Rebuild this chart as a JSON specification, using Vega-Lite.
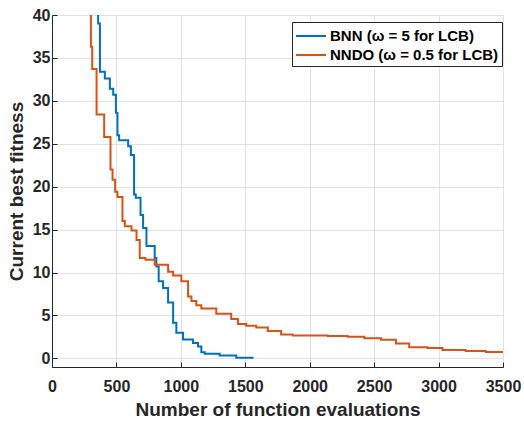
{
  "$schema": "https://vega.github.io/schema/vega-lite/v6.json",
  "autosize": "none",
  "padding": {"left": 52, "top": 15, "right": 21, "bottom": 54},
  "width": 451,
  "height": 352,
  "background": "white",
  "config": {
    "view": {"stroke": null},
    "font": "Liberation Sans",
    "axis": {
      "labelFont": "Liberation Sans", "labelFontWeight": "bold", "labelFontSize": 16, "labelColor": "#262626",
      "titleFont": "Liberation Sans", "titleFontWeight": "bold", "titleFontSize": 19, "titleColor": "#262626",
      "domainColor": "#262626", "domainWidth": 1, "tickColor": "#262626", "tickWidth": 1,
      "gridColor": "#e2e2e2", "gridWidth": 1
    },
    "legend": {
      "labelFont": "Liberation Sans", "labelFontWeight": "bold", "labelFontSize": 15, "labelColor": "#000000"
    }
  },
  "data": {
    "values": [
      {"method": "BNN (ω = 5 for LCB)", "i": 0, "x": 358, "y": 45},
      {"method": "BNN (ω = 5 for LCB)", "i": 1, "x": 358, "y": 39.0},
      {"method": "BNN (ω = 5 for LCB)", "i": 2, "x": 372, "y": 33.4},
      {"method": "BNN (ω = 5 for LCB)", "i": 3, "x": 410, "y": 32.6},
      {"method": "BNN (ω = 5 for LCB)", "i": 4, "x": 449, "y": 31.4},
      {"method": "BNN (ω = 5 for LCB)", "i": 5, "x": 475, "y": 30.7},
      {"method": "BNN (ω = 5 for LCB)", "i": 6, "x": 496, "y": 28.6},
      {"method": "BNN (ω = 5 for LCB)", "i": 7, "x": 508, "y": 26.0},
      {"method": "BNN (ω = 5 for LCB)", "i": 8, "x": 521, "y": 25.4},
      {"method": "BNN (ω = 5 for LCB)", "i": 9, "x": 591, "y": 24.7},
      {"method": "BNN (ω = 5 for LCB)", "i": 10, "x": 612, "y": 23.7},
      {"method": "BNN (ω = 5 for LCB)", "i": 11, "x": 637, "y": 19.1},
      {"method": "BNN (ω = 5 for LCB)", "i": 12, "x": 650, "y": 18.7},
      {"method": "BNN (ω = 5 for LCB)", "i": 13, "x": 687, "y": 16.7},
      {"method": "BNN (ω = 5 for LCB)", "i": 14, "x": 707, "y": 15.2},
      {"method": "BNN (ω = 5 for LCB)", "i": 15, "x": 733, "y": 13.1},
      {"method": "BNN (ω = 5 for LCB)", "i": 16, "x": 797, "y": 11.7},
      {"method": "BNN (ω = 5 for LCB)", "i": 17, "x": 810, "y": 10.7},
      {"method": "BNN (ω = 5 for LCB)", "i": 18, "x": 828, "y": 9.0},
      {"method": "BNN (ω = 5 for LCB)", "i": 19, "x": 862, "y": 8.2},
      {"method": "BNN (ω = 5 for LCB)", "i": 20, "x": 901, "y": 6.5},
      {"method": "BNN (ω = 5 for LCB)", "i": 21, "x": 940, "y": 4.15},
      {"method": "BNN (ω = 5 for LCB)", "i": 22, "x": 965, "y": 3.0},
      {"method": "BNN (ω = 5 for LCB)", "i": 23, "x": 1017, "y": 2.2},
      {"method": "BNN (ω = 5 for LCB)", "i": 24, "x": 1094, "y": 1.8},
      {"method": "BNN (ω = 5 for LCB)", "i": 25, "x": 1133, "y": 1.4},
      {"method": "BNN (ω = 5 for LCB)", "i": 26, "x": 1159, "y": 0.73},
      {"method": "BNN (ω = 5 for LCB)", "i": 27, "x": 1185, "y": 0.55},
      {"method": "BNN (ω = 5 for LCB)", "i": 28, "x": 1301, "y": 0.35},
      {"method": "BNN (ω = 5 for LCB)", "i": 29, "x": 1430, "y": 0.08},
      {"method": "BNN (ω = 5 for LCB)", "i": 30, "x": 1564, "y": 0.08},
      {"method": "NNDO (ω = 0.5 for LCB)", "i": 0, "x": 302, "y": 45},
      {"method": "NNDO (ω = 0.5 for LCB)", "i": 1, "x": 302, "y": 36.3},
      {"method": "NNDO (ω = 0.5 for LCB)", "i": 2, "x": 312, "y": 33.7},
      {"method": "NNDO (ω = 0.5 for LCB)", "i": 3, "x": 346, "y": 28.4},
      {"method": "NNDO (ω = 0.5 for LCB)", "i": 4, "x": 405, "y": 25.8},
      {"method": "NNDO (ω = 0.5 for LCB)", "i": 5, "x": 454, "y": 22.0},
      {"method": "NNDO (ω = 0.5 for LCB)", "i": 6, "x": 470, "y": 20.8},
      {"method": "NNDO (ω = 0.5 for LCB)", "i": 7, "x": 490, "y": 19.4},
      {"method": "NNDO (ω = 0.5 for LCB)", "i": 8, "x": 508, "y": 18.8},
      {"method": "NNDO (ω = 0.5 for LCB)", "i": 9, "x": 547, "y": 16.0},
      {"method": "NNDO (ω = 0.5 for LCB)", "i": 10, "x": 565, "y": 15.4},
      {"method": "NNDO (ω = 0.5 for LCB)", "i": 11, "x": 617, "y": 14.9},
      {"method": "NNDO (ω = 0.5 for LCB)", "i": 12, "x": 656, "y": 13.8},
      {"method": "NNDO (ω = 0.5 for LCB)", "i": 13, "x": 681, "y": 11.7},
      {"method": "NNDO (ω = 0.5 for LCB)", "i": 14, "x": 725, "y": 11.5},
      {"method": "NNDO (ω = 0.5 for LCB)", "i": 15, "x": 797, "y": 10.9},
      {"method": "NNDO (ω = 0.5 for LCB)", "i": 16, "x": 901, "y": 10.1},
      {"method": "NNDO (ω = 0.5 for LCB)", "i": 17, "x": 940, "y": 9.65},
      {"method": "NNDO (ω = 0.5 for LCB)", "i": 18, "x": 1004, "y": 9.0},
      {"method": "NNDO (ω = 0.5 for LCB)", "i": 19, "x": 1056, "y": 7.2},
      {"method": "NNDO (ω = 0.5 for LCB)", "i": 20, "x": 1082, "y": 6.7},
      {"method": "NNDO (ω = 0.5 for LCB)", "i": 21, "x": 1120, "y": 6.2},
      {"method": "NNDO (ω = 0.5 for LCB)", "i": 22, "x": 1159, "y": 5.8},
      {"method": "NNDO (ω = 0.5 for LCB)", "i": 23, "x": 1275, "y": 5.2},
      {"method": "NNDO (ω = 0.5 for LCB)", "i": 24, "x": 1391, "y": 4.6},
      {"method": "NNDO (ω = 0.5 for LCB)", "i": 25, "x": 1443, "y": 4.0},
      {"method": "NNDO (ω = 0.5 for LCB)", "i": 26, "x": 1507, "y": 3.8},
      {"method": "NNDO (ω = 0.5 for LCB)", "i": 27, "x": 1585, "y": 3.6},
      {"method": "NNDO (ω = 0.5 for LCB)", "i": 28, "x": 1675, "y": 3.18},
      {"method": "NNDO (ω = 0.5 for LCB)", "i": 29, "x": 1778, "y": 2.8},
      {"method": "NNDO (ω = 0.5 for LCB)", "i": 30, "x": 1868, "y": 2.67},
      {"method": "NNDO (ω = 0.5 for LCB)", "i": 31, "x": 2140, "y": 2.6},
      {"method": "NNDO (ω = 0.5 for LCB)", "i": 32, "x": 2295, "y": 2.52},
      {"method": "NNDO (ω = 0.5 for LCB)", "i": 33, "x": 2424, "y": 2.36},
      {"method": "NNDO (ω = 0.5 for LCB)", "i": 34, "x": 2553, "y": 2.17},
      {"method": "NNDO (ω = 0.5 for LCB)", "i": 35, "x": 2669, "y": 1.74},
      {"method": "NNDO (ω = 0.5 for LCB)", "i": 36, "x": 2772, "y": 1.31},
      {"method": "NNDO (ω = 0.5 for LCB)", "i": 37, "x": 2914, "y": 1.2},
      {"method": "NNDO (ω = 0.5 for LCB)", "i": 38, "x": 3030, "y": 0.97},
      {"method": "NNDO (ω = 0.5 for LCB)", "i": 39, "x": 3211, "y": 0.85},
      {"method": "NNDO (ω = 0.5 for LCB)", "i": 40, "x": 3366, "y": 0.74},
      {"method": "NNDO (ω = 0.5 for LCB)", "i": 41, "x": 3500, "y": 0.66}
    ]
  },
  "resolve": {"axis": {"x": "independent", "y": "independent"}},
  "layer": [
    {
      "mark": {"type": "line", "interpolate": "step-after", "strokeWidth": 2, "clip": true},
      "encoding": {
        "x": {
          "field": "x", "type": "quantitative",
          "scale": {"domain": [0, 3500], "nice": false, "zero": false},
          "axis": {"orient": "bottom", "values": [0, 500, 1000, 1500, 2000, 2500, 3000, 3500], "format": "d", "ticks": false, "labelPadding": 11, "title": "Number of function evaluations", "titlePadding": 6, "labelFlush": false, "labelOverlap": false}
        },
        "y": {
          "field": "y", "type": "quantitative",
          "scale": {"domain": [-1, 40], "nice": false, "zero": false},
          "axis": {"orient": "left", "values": [0, 5, 10, 15, 20, 25, 30, 35, 40], "format": "d", "ticks": false, "labelPadding": 2, "title": "Current best fitness", "titlePadding": 6, "labelFlush": false, "labelOverlap": false}
        },
        "color": {
          "field": "method", "type": "nominal",
          "scale": {"domain": ["BNN (ω = 5 for LCB)", "NNDO (ω = 0.5 for LCB)"], "range": ["#0072BD", "#D95319"]},
          "legend": {
            "title": null, "orient": "none", "legendX": 240, "legendY": 7,
            "symbolType": "M-1.5,0H1.5", "symbolSize": 400, "symbolStrokeWidth": 2, "symbolOffset": 5, "labelLimit": 0,
            "strokeColor": "#262626", "fillColor": "white", "padding": 3, "rowPadding": 0, "labelOffset": 8, "cornerRadius": 0
          }
        },
        "order": {"field": "i", "type": "quantitative"}
      }
    },
    {
      "mark": {"type": "line", "opacity": 0},
      "encoding": {
        "x": {
          "field": "x", "type": "quantitative",
          "axis": {"orient": "top", "offset": -352, "values": [0, 500, 1000, 1500, 2000, 2500, 3000, 3500], "domain": false, "labels": false, "grid": false, "ticks": true, "tickSize": 5, "title": null}
        },
        "y": {
          "field": "y", "type": "quantitative",
          "axis": {"orient": "right", "offset": -451, "values": [0, 5, 10, 15, 20, 25, 30, 35, 40], "domain": false, "labels": false, "grid": false, "ticks": true, "tickSize": 5, "title": null}
        },
        "detail": {"field": "method"},
        "order": {"field": "i", "type": "quantitative"}
      }
    }
  ]
}
